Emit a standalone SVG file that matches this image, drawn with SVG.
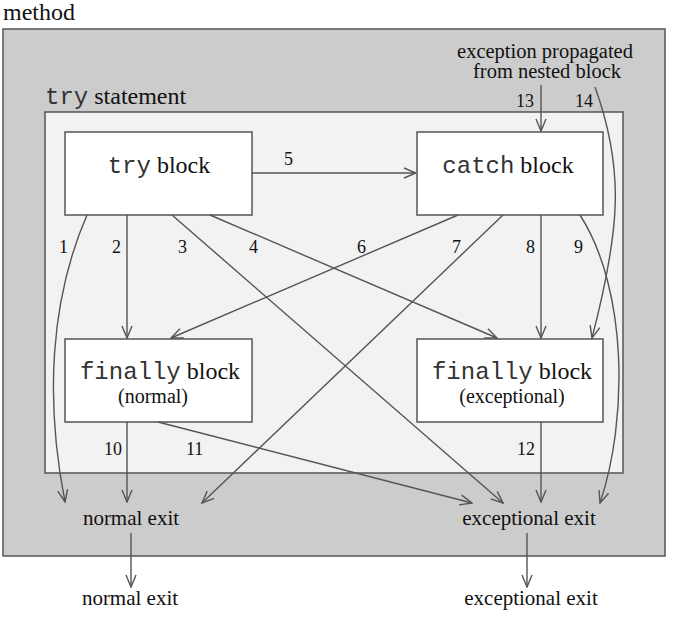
<svg xmlns="http://www.w3.org/2000/svg" width="681" height="630" viewBox="0 0 681 630">
<defs>
<style>
text{fill:#111}
.box{fill:#fff;stroke:#555;stroke-width:1.5}
.edge{fill:none;stroke:#555;stroke-width:1.4;marker-end:url(#arr)}
</style>
<marker id="arr" markerUnits="userSpaceOnUse" markerWidth="14" markerHeight="12" refX="13" refY="6" orient="auto" viewBox="0 0 14 12">
<path d="M1,1 L13,6 L1,11" fill="none" stroke="#555" stroke-width="1.4"/>
</marker>
</defs>
<rect width="681" height="630" fill="#fff"/>
<g id="method">
<rect x="3" y="29" width="662" height="527" fill="#cccccc" stroke="#555" stroke-width="1.5"/>
<text font-family="'Liberation Serif', 'Times New Roman', serif" font-size="24" x="3" y="20">method</text>
</g>
<g id="try-statement">
<rect x="45" y="112" width="578" height="361" fill="#f2f2f2" stroke="#555" stroke-width="1.5"/>
<text font-size="24" x="45" y="104"><tspan font-family="'Liberation Mono', 'Courier New', monospace" fill="#333">try</tspan><tspan font-family="'Liberation Serif', 'Times New Roman', serif"> statement</tspan></text>
</g>
<g id="try-block">
<rect class="box" x="65" y="132" width="187" height="83"/>
<text font-size="24" x="159" y="173" text-anchor="middle"><tspan font-family="'Liberation Mono', 'Courier New', monospace" fill="#333">try</tspan><tspan font-family="'Liberation Serif', 'Times New Roman', serif"> block</tspan></text>
</g>
<g id="catch-block">
<rect class="box" x="417" y="132" width="186" height="83"/>
<text font-size="24" x="508" y="173" text-anchor="middle"><tspan font-family="'Liberation Mono', 'Courier New', monospace" fill="#333">catch</tspan><tspan font-family="'Liberation Serif', 'Times New Roman', serif"> block</tspan></text>
</g>
<g id="finally-normal">
<rect class="box" x="65" y="339" width="187" height="83"/>
<text font-size="24" x="160" y="379" text-anchor="middle"><tspan font-family="'Liberation Mono', 'Courier New', monospace" fill="#333">finally</tspan><tspan font-family="'Liberation Serif', 'Times New Roman', serif"> block</tspan></text>
<text font-family="'Liberation Serif', 'Times New Roman', serif" font-size="20" x="153" y="403" text-anchor="middle">(normal)</text>
</g>
<g id="finally-exceptional">
<rect class="box" x="417" y="339" width="186" height="83"/>
<text font-size="24" x="512" y="379" text-anchor="middle"><tspan font-family="'Liberation Mono', 'Courier New', monospace" fill="#333">finally</tspan><tspan font-family="'Liberation Serif', 'Times New Roman', serif"> block</tspan></text>
<text font-family="'Liberation Serif', 'Times New Roman', serif" font-size="20" x="512" y="403" text-anchor="middle">(exceptional)</text>
</g>
<g id="propagated" font-family="'Liberation Serif', 'Times New Roman', serif" font-size="20.5">
<text x="545" y="58" text-anchor="middle">exception propagated</text>
<text x="547" y="78" text-anchor="middle">from nested block</text>
</g>
<g font-family="'Liberation Serif', 'Times New Roman', serif" font-size="21">
<g id="normal-exit-inner">
<text x="131" y="525" text-anchor="middle">normal exit</text>
</g>
<g id="exceptional-exit-inner">
<text x="529" y="525" text-anchor="middle">exceptional exit</text>
</g>
<g id="normal-exit-outer">
<text x="130" y="605" text-anchor="middle">normal exit</text>
</g>
<g id="exceptional-exit-outer">
<text x="531" y="605" text-anchor="middle">exceptional exit</text>
</g>
</g>
<g id="connectors">
<path class="edge" d="M87,215 C50,300 45,400 65,502"/>
<path class="edge" d="M127,215 L127,338"/>
<path class="edge" d="M172,215 L503,503"/>
<path class="edge" d="M210,215 L497,338"/>
<path class="edge" d="M252,173 L416,173"/>
<path class="edge" d="M458,215 L171,338"/>
<path class="edge" d="M503,215 L202,503"/>
<path class="edge" d="M541,215 L541,338"/>
<path class="edge" d="M580,215 C628,290 628,420 600,503"/>
<path class="edge" d="M127,422 L127,502"/>
<path class="edge" d="M158,422 L472,503"/>
<path class="edge" d="M541,422 L541,502"/>
<path class="edge" d="M541,85 L541,131"/>
<path class="edge" d="M595,87 C625,170 620,230 592,338"/>
<path class="edge" d="M131,533 L131,587"/>
<path class="edge" d="M527,533 L527,587"/>
<g font-family="'Liberation Serif', 'Times New Roman', serif" font-size="18">
<text x="59" y="253">1</text>
<text x="112" y="253">2</text>
<text x="178" y="253">3</text>
<text x="249" y="253">4</text>
<text x="284" y="165">5</text>
<text x="357" y="253">6</text>
<text x="452" y="253">7</text>
<text x="526" y="253">8</text>
<text x="574" y="253">9</text>
<text x="104" y="455">10</text>
<text x="186" y="455">11</text>
<text x="517" y="455">12</text>
<text x="516" y="107">13</text>
<text x="575" y="107">14</text>
</g>
</g>
</svg>
